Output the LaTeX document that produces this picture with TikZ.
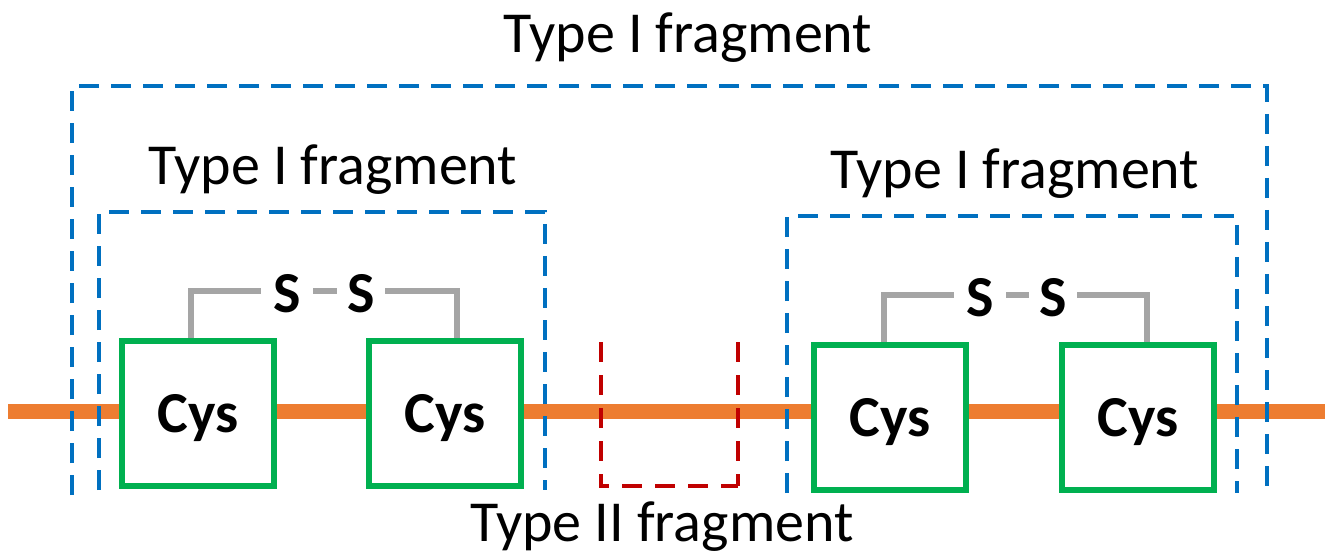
\documentclass[tikz,border=0pt]{standalone}
\usepackage{fontspec}
\setmainfont{Carlito}
\usetikzlibrary{positioning,calc}
\definecolor{fragblue}{RGB}{0,112,192}
\definecolor{fragred}{RGB}{192,0,0}
\definecolor{cysgreen}{RGB}{0,176,80}
\definecolor{chainorange}{RGB}{237,125,49}
\definecolor{bondgray}{RGB}{165,165,165}
\tikzset{
    chain/.style={draw=chainorange,line width=7.5pt},
    cysbox/.style={draw=cysgreen,line width=3pt,fill=white,minimum width=76pt,
        minimum height=72.5pt,font=\fontsize{29}{34}\selectfont\bfseries,
        inner sep=0pt,text depth=0pt},
    sulfur/.style={font=\fontsize{29}{34}\selectfont\bfseries,inner sep=0pt},
    bond/.style={draw=bondgray,line width=3pt},
    typeone/.style={draw=fragblue,line width=2pt,dash pattern=on 10pt off 6pt},
    typetwo/.style={draw=fragred,line width=2pt,dash pattern=on 10pt off 6.5pt},
    fraglabel/.style={font=\fontsize{29}{34}\selectfont,anchor=base,inner sep=0pt}
}

\begin{document}
\begin{tikzpicture}[x=0.5pt,y=-0.5pt]
    \useasboundingbox (0,0) rectangle (1325,555);
    % backbone
    \coordinate (chainL) at (8,411);
    \coordinate (chainR) at (1325,411);
    \draw[chain] (chainL) -- (chainR);

    % cysteines
    \node[cysbox] (c1) at (198,413) {Cys};
    \node[cysbox] (c2) at (445,413) {Cys};
    \node[cysbox] (c3) at (890,417) {Cys};
    \node[cysbox] (c4) at (1138,417) {Cys};

    % disulfide bridges
    \node[sulfur] (s1) at (287,294) {S};
    \node[sulfur] (s2) at (361,294) {S};
    \node[sulfur] (s3) at (980,298) {S};
    \node[sulfur] (s4) at (1053,298) {S};
    \coordinate (b1) at ([xshift=-3.5pt]c1.north);
    \coordinate (b2) at ([xshift=6pt]c2.north);
    \coordinate (b3) at ([xshift=-3pt]c3.north);
    \coordinate (b4) at ([xshift=4.5pt]c4.north);
    \draw[bond] (b1) |- ([xshift=-6pt]s1.west |- 0,291);
    \draw[bond] ([xshift=6pt]s1.east |- 0,291) -- ([xshift=-5pt]s2.west |- 0,291);
    \draw[bond] ([xshift=5pt]s2.east |- 0,291) -| (b2);
    \draw[bond] (b3) |- ([xshift=-6pt]s3.west |- 0,295);
    \draw[bond] ([xshift=6pt]s3.east |- 0,295) -- ([xshift=-5pt]s4.west |- 0,295);
    \draw[bond] ([xshift=5pt]s4.east |- 0,295) -| (b4);

    % fragments
    \draw[typeone] (72,495) -- (72,86) -- (1267,86) -- (1267,495);
    \draw[typeone] (99,490) -- (99,212) -- (545,212) -- (545,490);
    \draw[typeone] (787,493) -- (787,216) -- (1237,216) -- (1237,493);
    \draw[typetwo] (601,342) -- (601,486) -- (738,486);
    \draw[typetwo] (738,342) -- (738,486);

    % labels
    \node[fraglabel] (outer) at (688,53) {Type I fragment};
    \node[fraglabel] (left) at (333,185) {Type I fragment};
    \node[fraglabel] (right) at (1015,189) {Type I fragment};
    \node[fraglabel] (two) at (662,541) {Type II fragment};
\end{tikzpicture}
\end{document}
